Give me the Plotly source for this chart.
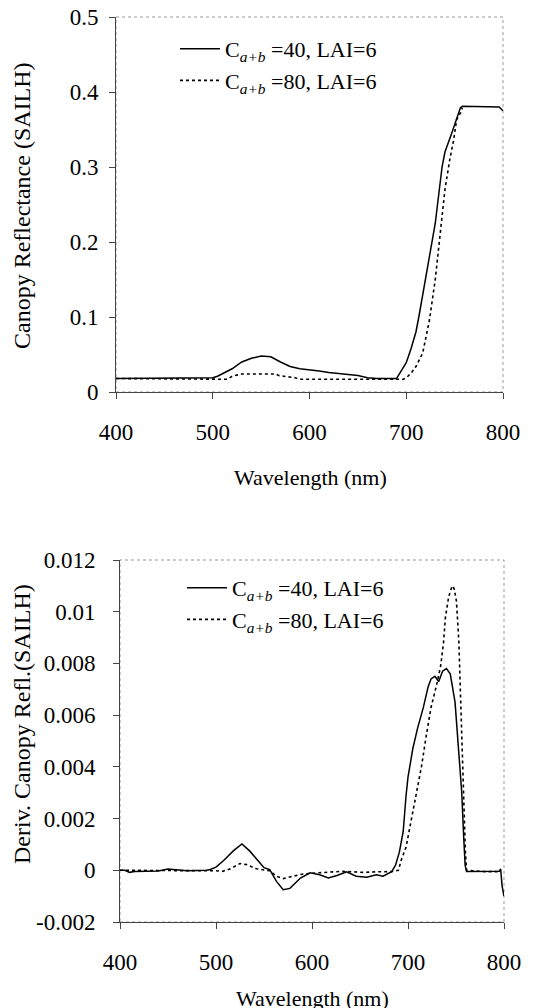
import plotly.graph_objects as go

# ---- Top panel: canopy reflectance ----
wl_r40 = [400, 450, 455, 500, 505, 510, 520, 530, 540, 550, 555, 560, 570, 580, 590, 600, 610, 620, 630, 640,
          650, 660, 670, 690, 693, 700, 705, 710, 713, 717, 724, 730, 737, 740, 747, 752, 756, 758, 796, 800]
refl_40 = [.018, .018, .019, .019, .021, .024, .031, .040, .045, .048, .048, .047, .040, .034, .031, .030, .028,
           .026, .025, .024, .022, .019, .018, .018, .024, .039, .058, .080, .100, .13, .185, .225, .30, .32, .345,
           .363, .379, .381, .380, .375]
wl_r80 = [400, 450, 500, 515, 520, 525, 530, 545, 560, 565, 568, 575, 585, 590, 600, 615, 620, 640, 660, 690,
          697, 700, 705, 710, 717, 724, 730, 735, 740, 745, 749, 752, 756, 758]
refl_80 = [.018, .018, .017, .017, .021, .023, .024, .024, .024, .024, .022, .021, .019, .017, .017, .017, .016,
           .016, .016, .016, .017, .019, .025, .034, .052, .096, .15, .21, .27, .31, .336, .363, .372, .379]

# ---- Bottom panel: derivative of canopy reflectance ----
wl_d40 = [400, 405, 410, 415, 440, 450, 455, 470, 490, 494, 500, 508, 518, 527, 535, 546, 550, 556, 563, 570,
          577, 588, 598, 608, 617, 626, 636, 646, 657, 667, 674, 683, 687, 691, 695, 698, 700, 705, 710, 716,
          721, 724, 728, 732, 736, 740, 744, 749, 753, 756, 758, 759.5, 761, 780, 795, 796.5, 798, 800]
der_40 = [0, 0, -0.00008, -0.00005, -0.00003, 0.00005, 0.00003, -0.00002, 0.0, 0.00003, 0.00012, 0.00038,
          0.00075, 0.00102, 0.00075, 0.00028, 0.0001, 0.00003, -0.00043, -0.00075, -0.0007, -0.0003, -0.0001,
          -0.00017, -0.0003, -0.0002, -0.00006, -0.00023, -0.00027, -0.00017, -0.00023, -0.00005, 0.0002, 0.0007,
          0.0015, 0.0029, 0.0036, 0.0047, 0.0055, 0.0063, 0.0071, 0.0074, 0.0075, 0.0073, 0.0077, 0.0078, 0.0076,
          0.0065, 0.0047, 0.003, 0.0013, 0.0002, -0.00005, -0.00005, -0.00004, 0.00005, -0.0006, -0.001]
wl_d80 = [400, 450, 500, 507, 515, 525, 532, 542, 549, 556, 563, 570, 580, 591, 605, 632, 643, 653, 667, 683,
          690, 693, 698, 703, 709, 714, 719, 724, 730, 734, 737, 739, 742.5, 746, 748, 750.5, 753, 755, 756.3,
          757.7, 759.8, 761, 780, 795]
der_80 = [0, 0, -0.00002, -0.00004, 0.00006, 0.00026, 0.00022, 0.00006, 0.00002, -0.00002, -0.00023, -0.00032,
          -0.00023, -0.00014, -0.0001, -0.00004, -0.00006, -0.00008, -0.00006, -0.00005, 0.0, 0.0004, 0.0009,
          0.0019, 0.003, 0.004, 0.0052, 0.0063, 0.0072, 0.0079, 0.0088, 0.0098, 0.0106, 0.011, 0.0109, 0.0104,
          0.0088, 0.0062, 0.0043, 0.0027, 0.0007, 0.0, -0.00005, -0.00005]

name40 = "C<sub><i>a+b</i></sub> =40, LAI=6"
name80 = "C<sub><i>a+b</i></sub> =80, LAI=6"

x_ticks = [400, 500, 600, 700, 800]
y1_ticks = [0, 0.1, 0.2, 0.3, 0.4, 0.5]
y1_labels = ["0", "0.1", "0.2", "0.3", "0.4", "0.5"]
y2_ticks = [-0.002, 0, 0.002, 0.004, 0.006, 0.008, 0.01, 0.012]
y2_labels = ["-0.002", "0", "0.002", "0.004", "0.006", "0.008", "0.01", "0.012"]

FONT = "Liberation Serif"
# the page body adds an 8px margin, so the figure starts at (8, 8) in the window
OFF = 8
W, H = 543 - OFF, 1008 - OFF

fig = go.Figure()
solid = dict(color="black", width=1.5)
dotted = dict(color="black", width=1.6, dash="3px,3px")

fig.add_trace(go.Scatter(x=wl_r40, y=refl_40, mode="lines", line=solid, name=name40,
                         xaxis="x", yaxis="y", legend="legend"))
fig.add_trace(go.Scatter(x=wl_r80, y=refl_80, mode="lines", line=dotted, name=name80,
                         xaxis="x", yaxis="y", legend="legend"))
fig.add_trace(go.Scatter(x=wl_d40, y=der_40, mode="lines", line=solid, name=name40,
                         xaxis="x2", yaxis="y2", legend="legend2"))
fig.add_trace(go.Scatter(x=wl_d80, y=der_80, mode="lines", line=dotted, name=name80,
                         xaxis="x2", yaxis="y2", legend="legend2"))

def px_x(p):
    return (p - OFF) / W

def px_y(p):
    return 1 - (p - OFF) / H

axis_common = dict(showgrid=False, zeroline=False, showline=True, linecolor="#444", linewidth=1,
                   ticks="outside", ticklen=6, tickcolor="#444", tickwidth=1, automargin=False,
                   ticklabeloverflow="allow",
                   tickfont=dict(family=FONT, size=23, color="black"))

fig.update_layout(
    width=W, height=H,
    margin=dict(l=0, r=0, t=0, b=0, autoexpand=False),
    paper_bgcolor="white", plot_bgcolor="white",
    font=dict(family=FONT, size=22, color="black"),
    xaxis=dict(domain=[px_x(116), px_x(503)], range=[400, 800], tickvals=x_ticks, anchor="y",
               ticklabelstandoff=13, **axis_common),
    yaxis=dict(domain=[px_y(392), px_y(17)], range=[0, 0.5], tickvals=y1_ticks, ticktext=y1_labels,
               anchor="x", ticklabelstandoff=6, **axis_common),
    xaxis2=dict(domain=[px_x(120), px_x(504)], range=[400, 800], tickvals=x_ticks, anchor="y2",
                ticklabelstandoff=13, **axis_common),
    yaxis2=dict(domain=[px_y(922), px_y(560)], range=[-0.002, 0.012], tickvals=y2_ticks, ticktext=y2_labels,
                anchor="x2", ticklabelstandoff=13, **axis_common),
    legend=dict(x=px_x(175), y=px_y(28), xanchor="left", yanchor="top", bgcolor="rgba(0,0,0,0)",
                font=dict(family=FONT, size=22), tracegroupgap=0, itemwidth=40),
    legend2=dict(x=px_x(182), y=px_y(567), xanchor="left", yanchor="top", bgcolor="rgba(0,0,0,0)",
                 font=dict(family=FONT, size=22), tracegroupgap=0, itemwidth=40),
    showlegend=True,
)

# dotted grey frame (top/right sides)
for xr, yr in [("x domain", "y domain"), ("x2 domain", "y2 domain")]:
    fig.add_shape(type="rect", xref=xr, yref=yr, x0=0, x1=1, y0=0, y1=1,
                  line=dict(color="#999", width=1, dash="dot"), layer="below")

# axis titles
fig.add_annotation(text="Wavelength (nm)", x=px_x(310), y=px_y(477), xref="paper", yref="paper",
                   showarrow=False, font=dict(family=FONT, size=22), xanchor="center", yanchor="middle")
fig.add_annotation(text="Wavelength (nm)", x=px_x(312), y=px_y(998), xref="paper", yref="paper",
                   showarrow=False, font=dict(family=FONT, size=22), xanchor="center", yanchor="middle")
fig.add_annotation(text="Canopy Reflectance (SAILH)", x=px_x(22), y=px_y(206), xref="paper", yref="paper",
                   showarrow=False, textangle=-90, font=dict(family=FONT, size=24),
                   xanchor="center", yanchor="middle")
fig.add_annotation(text="Deriv. Canopy Refl.(SAILH)", x=px_x(22), y=px_y(724), xref="paper", yref="paper",
                   showarrow=False, textangle=-90, font=dict(family=FONT, size=24),
                   xanchor="center", yanchor="middle")

fig.write_html("out.html")
